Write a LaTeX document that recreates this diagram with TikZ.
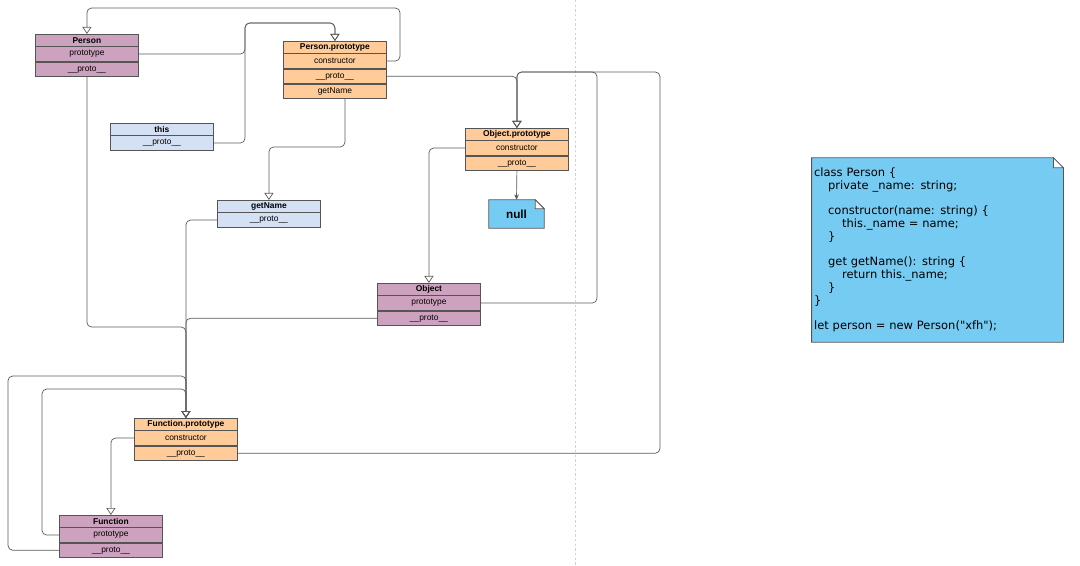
\documentclass[tikz,border=0pt]{standalone}
\usepackage{fontspec}
\setmainfont{Liberation Sans}
\newfontfamily\codefont{DejaVu Sans}
\usetikzlibrary{arrows.meta}
\usetikzlibrary{positioning}
\usetikzlibrary{calc}
\usetikzlibrary{backgrounds}
\definecolor{purp}{HTML}{CDA2BE}
\definecolor{orng}{HTML}{FFCC99}
\definecolor{pale}{HTML}{D4E1F5}
\definecolor{sky}{HTML}{76CBF3}
\definecolor{boxclr}{HTML}{555555}
\definecolor{lineclr}{HTML}{5A5A5A}

\begin{document}
\begin{tikzpicture}[x=0.03cm,y=-0.03cm,
    >={Triangle[open,length=2.1mm,width=2.7mm]},
    hd/.style={draw=boxclr,line width=0.7pt,minimum width=3.09cm,
      minimum height=0.35cm,inner sep=0pt,anchor=north west,
      font=\fontsize{7.2}{8}\selectfont\bfseries},
    rw/.style={draw=boxclr,line width=0.7pt,minimum width=3.09cm,
      minimum height=0.43cm,inner sep=0pt,font=\fontsize{7.2}{8}\selectfont},
    link/.style={draw=lineclr,line width=0.6pt,rounded corners=4pt},
    notepaper/.style={fill=sky,draw=boxclr,line width=0.7pt},
    divider/.style={draw=black!18,line width=0.6pt,dash pattern=on 2pt off 2pt}]
  \useasboundingbox (0,0) rectangle (1080,566);
  \draw[divider] (575,0) -- (575,566);

  \node[hd,fill=purp] (person) at (35,34) {Person};
  \node[rw,fill=purp,below=0pt of person] (personProto) {prototype};
  \node[rw,fill=purp,below=0pt of personProto] (personProto2) {\_\_proto\_\_};

  \node[hd,fill=orng] (pp) at (283,41) {Person.prototype};
  \node[rw,fill=orng,below=0pt of pp] (ppCtor) {constructor};
  \node[rw,fill=orng,below=0pt of ppCtor] (ppProto) {\_\_proto\_\_};
  \node[rw,fill=orng,below=0pt of ppProto] (ppGet) {getName};

  \node[hd,fill=pale] (this) at (110,123) {this};
  \node[rw,fill=pale,below=0pt of this] (thisProto) {\_\_proto\_\_};

  \node[hd,fill=pale] (getName) at (217,200) {getName};
  \node[rw,fill=pale,below=0pt of getName] (getNameProto) {\_\_proto\_\_};

  \node[hd,fill=orng] (op) at (465,128) {Object.prototype};
  \node[rw,fill=orng,below=0pt of op] (opCtor) {constructor};
  \node[rw,fill=orng,below=0pt of opCtor] (opProto) {\_\_proto\_\_};

  \node[hd,fill=purp] (obj) at (377,283) {Object};
  \node[rw,fill=purp,below=0pt of obj] (objProto) {prototype};
  \node[rw,fill=purp,below=0pt of objProto] (objProto2) {\_\_proto\_\_};

  \node[hd,fill=orng] (fp) at (134,418) {Function.prototype};
  \node[rw,fill=orng,below=0pt of fp] (fpCtor) {constructor};
  \node[rw,fill=orng,below=0pt of fpCtor] (fpProto) {\_\_proto\_\_};

  \node[hd,fill=purp] (fn) at (59,515) {Function};
  \node[rw,fill=purp,below=0pt of fn] (fnProto) {prototype};
  \node[rw,fill=purp,below=0pt of fnProto] (fnProto2) {\_\_proto\_\_};

  \node[minimum width=1.65cm,minimum height=0.84cm,inner sep=0pt,
    font=\fontsize{10}{12}\selectfont\bfseries] (null) at (516.5,214) {null};
  \node[minimum width=7.53cm,minimum height=5.52cm,inner sep=2pt,
    text width=7.4cm,align=left,
    font=\codefont\fontsize{9.8}{10.9}\selectfont] (code) at (937.5,250) {%
    class Person \{\\
    \hspace*{4.2mm}private \_name: string;\\
    ~\\
    \hspace*{4.2mm}constructor(name: string) \{\\
    \hspace*{8.4mm}this.\_name = name;\\
    \hspace*{4.2mm}\}\\
    ~\\
    \hspace*{4.2mm}get getName(): string \{\\
    \hspace*{8.4mm}return this.\_name;\\
    \hspace*{4.2mm}\}\\
    \}\\
    ~\\
    let person = new Person("xfh");};

  \begin{scope}[on background layer]
    \draw[notepaper] (null.south west) |- ($(null.north east)+(-9,0)$)
      -- ($(null.north east)+(0,9)$) |- cycle;
    \draw[notepaper] (code.south west) |- ($(code.north east)+(-10,0)$)
      -- ($(code.north east)+(0,10)$) |- cycle;
  \end{scope}
  \filldraw[fill=white,draw=boxclr,line width=0.6pt]
    ($(null.north east)+(-9,0)$) |- ($(null.north east)+(0,9)$) -- cycle;
  \filldraw[fill=white,draw=boxclr,line width=0.6pt]
    ($(code.north east)+(-10,0)$) |- ($(code.north east)+(0,10)$) -- cycle;

  \coordinate (j1) at (400,8);
  \coordinate (j2) at (245,23);
  \coordinate (j3) at (300,147);
  \coordinate (j4) at (597,72);
  \coordinate (j5) at (660,72);
  \coordinate (j6) at (120,327);
  \coordinate (j7) at (42,389);
  \coordinate (j8) at (8,376);

  \draw[link,->] (ppCtor.east) -| (j1) -| (person.north);
  \draw[link,->] (personProto.east) -| (j2) -| (pp.north);
  \draw[link,->] (thisProto.east) -| (j2) -| (pp.north);
  \draw[link,->] (ppProto.east) -| (op.north);
  \draw[link,->] ($(ppGet.south)+(10,0)$) |- (j3) -| (getName.north);
  \draw[link,->] (opCtor.west) -| (obj.north);
  \draw[link,-{Stealth[length=1.6mm,width=1.4mm]}] (opProto.south) -- (null.north);
  \draw[link,->] (objProto.east) -| (j4) -| (op.north);
  \draw[link,->] (fpProto.east) -| (j5) -| (op.north);
  \draw[link,->] (getNameProto.west) -| (fp.north);
  \draw[link,->] (objProto2.west) -| (fp.north);
  \draw[link,->] (personProto2.south) |- (j6) -| (fp.north);
  \draw[link,->] (fnProto.west) -| (j7) -| (fp.north);
  \draw[link,->] (fnProto2.west) -| (j8) -| (fp.north);
  \draw[link,->] (fpCtor.west) -| (fn.north);
\end{tikzpicture}
\end{document}
